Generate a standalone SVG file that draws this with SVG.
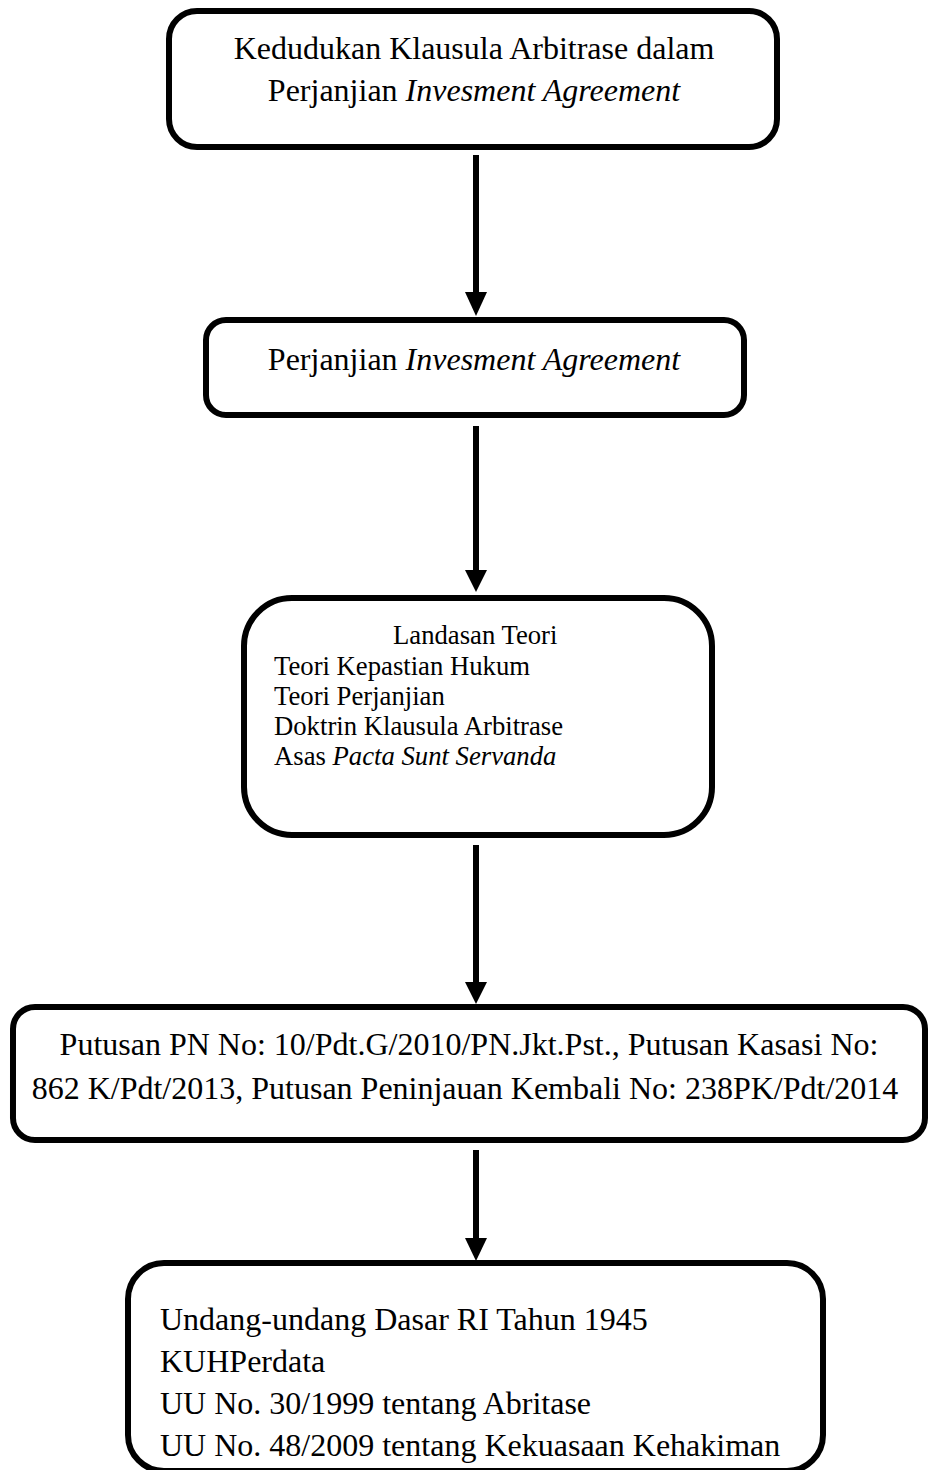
<svg xmlns="http://www.w3.org/2000/svg" width="928" height="1470" viewBox="0 0 928 1470">
<defs>
<style>
.box{fill:#fff;stroke:#000;stroke-width:6}
.t{font-family:"Liberation Serif","Times New Roman",serif;fill:#000}
.big{font-size:32px}
.mid{font-size:26.7px}
.conn{stroke:#000;stroke-width:6;fill:none}
.head{fill:#000}
</style>
</defs>
<rect width="928" height="1470" fill="#fff"/>
<g id="connectors">
<path class="conn" d="M476,155 V294"/><path class="head" d="M465,292 H487 L476,316 Z"/>
<path class="conn" d="M476,426 V572"/><path class="head" d="M465,570 H487 L476,592 Z"/>
<path class="conn" d="M476,845 V984"/><path class="head" d="M465,982 H487 L476,1004 Z"/>
<path class="conn" d="M476,1150 V1240"/><path class="head" d="M465,1238 H487 L476,1261 Z"/>
</g>
<g id="n1">
<rect class="box" x="169" y="11" width="608" height="136" rx="28"/>
<text class="t big" x="474" y="59" text-anchor="middle">Kedudukan Klausula Arbitrase dalam</text>
<text class="t big" x="474" y="101" text-anchor="middle">Perjanjian <tspan font-style="italic">Invesment Agreement</tspan></text>
</g>
<g id="n2">
<rect class="box" x="206" y="320" width="538" height="95" rx="20"/>
<text class="t big" x="474" y="370" text-anchor="middle">Perjanjian <tspan font-style="italic">Invesment Agreement</tspan></text>
</g>
<g id="n3">
<rect class="box" x="244" y="598" width="468" height="237" rx="48"/>
<text class="t mid" x="393" y="644">Landasan Teori</text>
<text class="t mid" x="274" y="675">Teori Kepastian Hukum</text>
<text class="t mid" x="274" y="705">Teori Perjanjian</text>
<text class="t mid" x="274" y="735">Doktrin Klausula Arbitrase</text>
<text class="t mid" x="274" y="765">Asas <tspan font-style="italic">Pacta Sunt Servanda</tspan></text>
</g>
<g id="n4">
<rect class="box" x="13" y="1007" width="912" height="133" rx="22"/>
<text class="t big" x="469" y="1055" text-anchor="middle">Putusan PN No: 10/Pdt.G/2010/PN.Jkt.Pst., Putusan Kasasi No:</text>
<text class="t big" x="465" y="1099" text-anchor="middle">862 K/Pdt/2013, Putusan Peninjauan Kembali No: 238PK/Pdt/2014</text>
</g>
<g id="n5">
<rect class="box" x="128" y="1263" width="695" height="208" rx="36"/>
<text class="t big" x="160" y="1330">Undang-undang Dasar RI Tahun 1945</text>
<text class="t big" x="160" y="1372">KUHPerdata</text>
<text class="t big" x="160" y="1414">UU No. 30/1999 tentang Abritase</text>
<text class="t big" x="160" y="1456">UU No. 48/2009 tentang Kekuasaan Kehakiman</text>
</g>
</svg>
